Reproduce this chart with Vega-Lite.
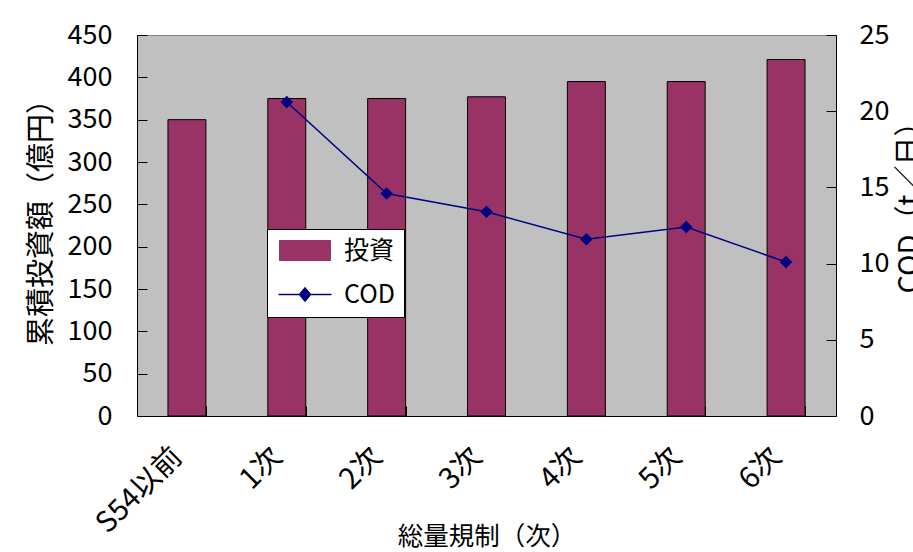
{
  "$schema": "https://vega.github.io/schema/vega-lite/v6.json",
  "width": 699,
  "height": 381,
  "autosize": {"type": "none"},
  "padding": {"left": 137, "top": 35, "right": 77, "bottom": 136},
  "background": "white",
  "data": {
    "values": [
      {"cat": "S54以前", "investment": 350, "cod": null},
      {"cat": "1次", "investment": 375, "cod": 20.6},
      {"cat": "2次", "investment": 375, "cod": 14.6},
      {"cat": "3次", "investment": 377, "cod": 13.4},
      {"cat": "4次", "investment": 395, "cod": 11.6},
      {"cat": "5次", "investment": 395, "cod": 12.4},
      {"cat": "6次", "investment": 421, "cod": 10.1}
    ]
  },
  "encoding": {
    "x": {
      "field": "cat",
      "type": "nominal",
      "sort": null,
      "scale": {"paddingInner": 0.62, "paddingOuter": 0.31},
      "axis": {
        "title": "総量規制（次）",
        "titleFontSize": 25.5,
        "titleY": 128,
        "titleBaseline": "alphabetic",
        "labelAngle": -45,
        "labelAlign": "right",
        "labelBaseline": "top",
        "labelFontSize": 29,
        "labelPadding": 36,
        "labelOffset": -20,
        "tickBand": "extent",
        "tickSize": -10,
        "labelOverlap": false
      }
    }
  },
  "layer": [
    {
      "mark": {"type": "bar", "stroke": "black", "strokeWidth": 1},
      "encoding": {
        "y": {
          "field": "investment",
          "type": "quantitative",
          "scale": {"domain": [0, 450], "nice": false},
          "axis": {
            "title": "累積投資額（億円）",
            "titleFontSize": 29,
            "titleX": -87,
            "titleY": 180,
            "titleBaseline": "alphabetic",
            "values": [0, 50, 100, 150, 200, 250, 300, 350, 400, 450],
            "tickSize": -10,
            "labelPadding": 35,
            "labelFontSize": 27
          }
        },
        "color": {
          "datum": "投資",
          "type": "nominal",
          "scale": {"domain": ["投資", "COD"], "range": ["#993366", "#000080"]},
          "legend": {
            "orient": "none",
            "legendX": 130,
            "legendY": 194,
            "title": null,
            "fillColor": "white",
            "strokeColor": "black",
            "padding": 9,
            "rowPadding": 18,
            "symbolSize": 400,
            "symbolOffset": 16.5,
            "labelOffset": 26.5,
            "labelFontSize": 25,
            "labelColor": "black",
            "encode": {
              "symbols": {
                "update": {
                  "shape": {"signal": "datum.value === '投資' ? 'M-2.55,-1H2.55V1H-2.55Z' : 'M-2.65,0H2.65M0,-0.65L0.55,0L0,0.65L-0.55,0Z'"},
                  "fill": {"signal": "datum.value === '投資' ? '#993366' : '#000080'"},
                  "stroke": {"signal": "datum.value === '投資' ? 'black' : '#000080'"},
                  "strokeWidth": {"signal": "datum.value === '投資' ? 1 : 1.5"}
                }
              }
            }
          }
        }
      }
    },
    {
      "transform": [{"filter": "datum.cod != null"}],
      "mark": {
        "type": "line",
        "strokeWidth": 1.5,
        "point": {"shape": "diamond", "size": 160, "filled": true, "opacity": 1}
      },
      "encoding": {
        "y": {
          "field": "cod",
          "type": "quantitative",
          "scale": {"domain": [0, 25], "nice": false},
          "axis": {
            "orient": "right",
            "title": "COD（t／日）",
            "titleFontSize": 29,
            "titleAngle": -90,
            "titleX": 59,
            "titleY": 165,
            "titleBaseline": "top",
            "values": [0, 5, 10, 15, 20, 25],
            "tickSize": -10,
            "labelPadding": 33,
            "labelFontSize": 27
          }
        },
        "color": {
          "datum": "COD",
          "type": "nominal",
          "legend": {
            "orient": "none",
            "legendX": 130,
            "legendY": 194,
            "title": null,
            "encode": {
              "symbols": {
                "update": {
                  "shape": {"signal": "datum.value === '投資' ? 'M-2.55,-1H2.55V1H-2.55Z' : 'M-2.65,0H2.65M0,-0.65L0.55,0L0,0.65L-0.55,0Z'"},
                  "fill": {"signal": "datum.value === '投資' ? '#993366' : '#000080'"},
                  "stroke": {"signal": "datum.value === '投資' ? 'black' : '#000080'"},
                  "strokeWidth": {"signal": "datum.value === '投資' ? 1 : 1.5"}
                }
              }
            }
          }
        }
      }
    }
  ],
  "resolve": {"scale": {"y": "independent"}},
  "config": {
    "font": "Noto Sans CJK JP",
    "view": {"fill": "#C0C0C0", "stroke": "#808080", "strokeWidth": 1},
    "axis": {
      "grid": false,
      "domainColor": "black",
      "domainWidth": 1,
      "tickColor": "black",
      "tickWidth": 1,
      "labelColor": "black",
      "titleColor": "black",
      "titleFontWeight": "normal",
      "labelFont": "Noto Sans CJK JP",
      "titleFont": "Noto Sans CJK JP"
    },
    "legend": {"labelFont": "Noto Sans CJK JP"}
  }
}
